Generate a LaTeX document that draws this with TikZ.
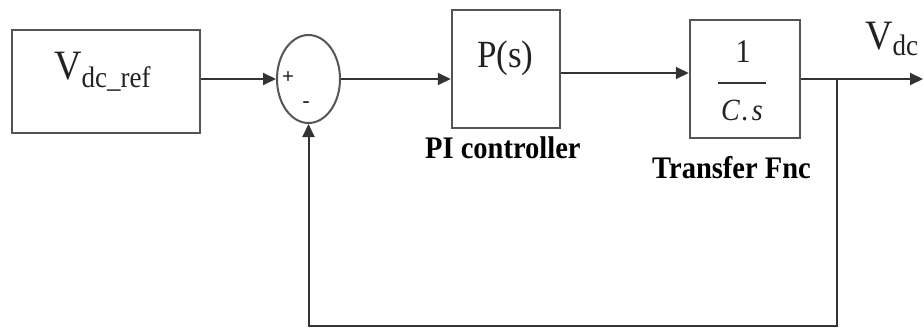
\documentclass[tikz,border=0pt]{standalone}
\usepackage{graphicx}
\usepackage{fontspec}
\setmainfont{Liberation Serif}
\usetikzlibrary{arrows.meta,shapes.geometric}
\definecolor{boxgray}{HTML}{555555}
\definecolor{linegray}{HTML}{333333}
\definecolor{txtdark}{HTML}{222222}
\newcommand\vs[1]{\scalebox{1}[1.1]{#1}}
\begin{document}
\begin{tikzpicture}[x=1pt,y=-1pt,
  blk/.style={draw=boxgray,line width=2.5pt,inner sep=0pt},
  wire/.style={draw=linegray,line width=2pt},
  arr/.style={wire,-{Triangle[length=13pt,width=12pt]}},
  txt/.style={inner sep=0pt,text=txtdark},
  lab/.style={inner sep=0pt,anchor=base west,text=black,font=\fontsize{28.5}{32}\selectfont\bfseries}]
\useasboundingbox (0,0) rectangle (924,329);

% blocks
\node[blk,minimum width=188pt,minimum height=103pt] (ref) at (106,81.5) {};
\node[blk,ellipse,line width=2pt,minimum width=63pt,minimum height=88pt] (sum) at (308.5,79) {};
\node[blk,minimum width=108pt,minimum height=118pt] (P) at (506,69) {};
\node[blk,minimum width=110pt,minimum height=118pt] (TF) at (745,79) {};

% texts
\node[txt,anchor=base west] (reftxt) at (54,80)
  {\vs{\fontsize{38}{40}\selectfont V}\raisebox{-7pt}{\vs{\fontsize{27}{30}\selectfont dc\_ref}}};
\node[txt,font=\fontsize{21}{22}\selectfont\bfseries] (plus) at (288,78) {+};
\node[txt,font=\fontsize{21}{22}\selectfont\bfseries] (minus) at (306,105) {-};
\node[txt,anchor=base west] (Ptxt) at (477,68) {\vs{\fontsize{35}{38}\selectfont P(s)}};
\node[txt,anchor=base] (one) at (743,63) {\vs{\fontsize{30}{32}\selectfont 1}};
\draw[linegray,line width=2pt] (718,83) -- (766,83);
\node[txt,anchor=base] (cs) at (742,120) {\vs{\fontsize{28}{30}\selectfont\itshape C\kern2pt.\kern3pt s}};
\node[txt,anchor=base west] (vdc) at (865,50)
  {\vs{\fontsize{38}{40}\selectfont V}\raisebox{-6pt}{\vs{\fontsize{27}{30}\selectfont dc}}};
\node[lab] (pilab) at (425,158) {\vs{PI controller}};
\node[lab] (tflab) at (652,178) {\vs{Transfer Fnc}};

% connectors
\coordinate (out) at (923,79);
\coordinate (br) at (837,79);
\coordinate (bot) at (837,326);
\draw[arr] (ref.east |- sum.west) -- (sum.west);
\draw[arr] (sum.east) -- (sum.east -| P.west);
\draw[arr] ([yshift=-4pt]P.east) -- ([yshift=-4pt]P.east -| TF.west);
\draw[arr] (TF.east) -- (out);
\draw[arr] (br) -- (bot) -| (sum.south);
\end{tikzpicture}
\end{document}
